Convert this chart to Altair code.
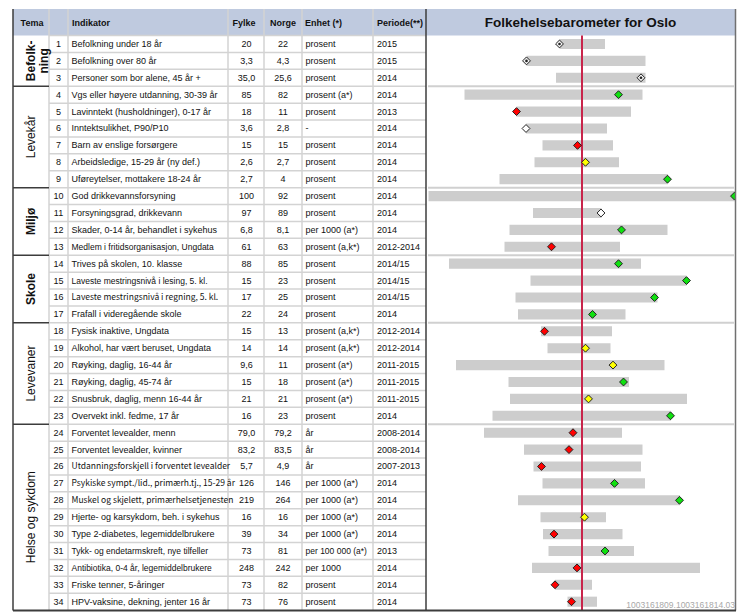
import altair as alt
import pandas as pd

FONT = "Liberation Sans"
NARROW = "Noto Sans CJK SC, Liberation Sans"

# ---------------- data ----------------
groups = ["Befolk-\nning", "Levekår", "Miljø", "Skole", "Levevaner", "Helse og sykdom"]
group_sizes = [3, 6, 4, 4, 6, 11]
group_bold = [True, False, True, True, False, False]

indikator = [
    "Befolkning under 18 år",
    "Befolkning over 80 år",
    "Personer som bor alene, 45 år +",
    "Vgs eller høyere utdanning, 30-39 år",
    "Lavinntekt (husholdninger), 0-17 år",
    "Inntektsulikhet, P90/P10",
    "Barn av enslige forsørgere",
    "Arbeidsledige, 15-29 år (ny def.)",
    "Uføreytelser, mottakere 18-24 år",
    "God drikkevannsforsyning",
    "Forsyningsgrad, drikkevann",
    "Skader, 0-14 år, behandlet i sykehus",
    "Medlem i fritidsorganisasjon, Ungdata",
    "Trives på skolen, 10. klasse",
    "Laveste mestringsnivå i lesing, 5. kl.",
    "Laveste mestringsnivå i regning, 5. kl.",
    "Frafall i videregående skole",
    "Fysisk inaktive, Ungdata",
    "Alkohol, har vært beruset, Ungdata",
    "Røyking, daglig, 16-44 år",
    "Røyking, daglig, 45-74 år",
    "Snusbruk, daglig, menn 16-44 år",
    "Overvekt inkl. fedme, 17 år",
    "Forventet levealder, menn",
    "Forventet levealder, kvinner",
    "Utdanningsforskjell i forventet levealder",
    "Psykiske sympt./lid., primærh.tj., 15-29 år",
    "Muskel og skjelett, primærhelsetjenesten",
    "Hjerte- og karsykdom, beh. i sykehus",
    "Type 2-diabetes, legemiddelbrukere",
    "Tykk- og endetarmskreft, nye tilfeller",
    "Antibiotika, 0-4 år, legemiddelbrukere",
    "Friske tenner, 5-åringer",
    "HPV-vaksine, dekning, jenter 16 år",
]
fylke = ["20", "3,3", "35,0", "85", "18", "3,6", "15", "2,6", "2,7", "100", "97", "6,8",
         "61", "88", "15", "17", "22", "15", "14", "9,6", "15", "21", "16", "79,0", "83,2",
         "5,7", "126", "219", "16", "39", "73", "248", "73", "73"]
norge = ["22", "4,3", "25,6", "82", "11", "2,8", "15", "2,7", "4", "92", "89", "8,1",
         "63", "85", "23", "25", "24", "13", "14", "11", "18", "21", "23", "79,2", "83,5",
         "4,9", "146", "264", "16", "34", "81", "242", "82", "76"]
enhet = ["prosent", "prosent", "prosent", "prosent (a*)", "prosent", "-", "prosent",
         "prosent", "prosent", "prosent", "prosent", "per 1000 (a*)", "prosent (a,k*)",
         "prosent", "prosent", "prosent", "prosent", "prosent (a,k*)", "prosent (a,k*)",
         "prosent (a*)", "prosent (a*)", "prosent (a*)", "prosent", "år", "år", "år",
         "per 1000 (a*)", "per 1000 (a*)", "per 1000 (a*)", "per 1000 (a*)",
         "per 100 000 (a*)", "per 1000", "prosent", "prosent"]
periode = ["2015", "2015", "2014", "2014", "2013", "2014", "2014", "2014", "2014", "2014",
           "2014", "2014", "2012-2014", "2014/15", "2014/15", "2014/15", "2014",
           "2012-2014", "2012-2014", "2011-2015", "2011-2015", "2011-2015", "2014",
           "2008-2014", "2008-2014", "2007-2013", "2014", "2014", "2014", "2014", "2013",
           "2014", "2014", "2014"]

# barometer, standardised scale where the national value (Norge) = 0
bar_lo = [-0.45, -1.11, -0.52, -2.35, -1.31, -1.12, -0.79, -0.95, -1.65, -3.07, -0.98,
          -1.45, -1.55, -2.66, -1.03, -1.33, -1.28, -0.82, -0.69, -2.52, -1.47, -1.44,
          -1.79, -1.96, -1.16, -0.97, -0.79, -1.28, -0.83, -0.78, -0.67, -1.00, -0.54,
          -0.29]
bar_hi = [0.46, 1.27, 1.27, 1.21, 0.98, 0.50, 0.62, 0.74, 1.72, 3.06, 0.39, 1.71, 0.76,
          1.18, 2.09, 1.51, 0.87, 0.60, 0.57, 1.65, 0.94, 2.10, 1.78, 0.80, 1.21, 1.18,
          1.26, 1.96, 0.48, 0.81, 1.04, 2.36, 0.20, 0.30]
fylke_pos = [-0.45, -1.11, 1.18, 0.73, -1.31, -1.12, -0.09, 0.07, 1.71, 3.05, 0.38,
             0.79, -0.61, 0.73, 2.09, 1.45, 0.21, -0.75, 0.07, 0.62, 0.83, 0.13, 1.77,
             -0.18, -0.26, -0.81, 0.65, 1.95, 0.05, -0.56, 0.46, -0.10, -0.54, -0.21]
status = ["grå", "grå", "grå", "grønn", "rød", "hvit", "rød", "gul", "grønn", "grønn",
          "hvit", "grønn", "rød", "grønn", "grønn", "grønn", "grønn", "rød", "gul", "gul",
          "grønn", "gul", "grønn", "rød", "rød", "rød", "grønn", "grønn", "gul", "rød",
          "grønn", "rød", "rød", "rød"]
status_domain = ["grå", "hvit", "grønn", "gul", "rød"]
status_colors = ["#f2f2f2", "#ffffff", "#10e010", "#ffff00", "#ff0000"]

title_text = "Folkehelsebarometer for Oslo"
header_center = ["Tema", "Fylke", "Norge"]
header_left = ["Indikator", "Enhet (*)", "Periode(**)"]
footer_text = "1003161809.1003161814.03"

# ---------------- tables ----------------
rows = list(range(1, len(indikator) + 1))
df = pd.DataFrame({
    "row": rows, "nr": [str(r) for r in rows], "indikator": indikator,
    "fylke": fylke, "norge": norge, "enhet": enhet, "periode": periode,
    "lo": bar_lo, "hi": bar_hi, "pos": fylke_pos, "status": status,
})

g_start, g_end, acc = [], [], 0
for s in group_sizes:
    g_start.append(acc + 1)
    acc += s
    g_end.append(acc)
gdf = pd.DataFrame({
    "label": groups, "mid": [(a + b) / 2 for a, b in zip(g_start, g_end)],
    "bold": group_bold,
})
group_bounds = pd.DataFrame({"b": [e + 0.5 for e in g_end[:-1]]})
row_bounds = pd.DataFrame({"b": [r + 0.5 for r in [0] + rows[:-1]]})

# layout (pixels)
LW, RW, H = 418, 310, 602
HDR = 26.5
BOTTOM = 601.5
col_lines = pd.DataFrame({"x": [41, 60, 220, 256, 294, 365]})
hdr_c = pd.DataFrame({"t": header_center, "x": [24, 236, 275]})
hdr_l = pd.DataFrame({"t": header_left, "x": [64, 297, 369]})

ys = alt.Scale(domain=[-1.07, 34.55], reverse=True, nice=False, zero=False)
xl = alt.Scale(domain=[0, LW], nice=False, zero=False)
xr = alt.Scale(domain=[-3.12, 3.08], nice=False, zero=False)

one = pd.DataFrame({"k": [0]})
BORDER = "#3c3c3c"
GRID = "#d3d3d3"
TXT = "#111111"

# ---------------- left: table ----------------
l_header = alt.Chart(one).mark_rect(color="#bfcadf").encode(
    x=alt.value(5), x2=alt.value(LW), y=alt.value(0), y2=alt.value(HDR))
l_rowlines = alt.Chart(row_bounds).mark_rule(color=GRID, strokeWidth=1.5).encode(
    y=alt.Y("b:Q", scale=ys, axis=None), x=alt.value(41), x2=alt.value(LW))
l_grouplines = alt.Chart(group_bounds).mark_rule(color=BORDER, strokeWidth=1.5).encode(
    y=alt.Y("b:Q", scale=ys, axis=None), x=alt.value(5), x2=alt.value(41))
l_collines = alt.Chart(col_lines).mark_rule(color=GRID, strokeWidth=1.5).encode(
    x=alt.X("x:Q", scale=xl, axis=None), y=alt.value(0), y2=alt.value(BOTTOM))
l_left = alt.Chart(one).mark_rule(color=BORDER, strokeWidth=1.5).encode(
    x=alt.value(5), y=alt.value(0), y2=alt.value(BOTTOM))
l_bottom = alt.Chart(one).mark_rule(color=BORDER, strokeWidth=2).encode(
    x=alt.value(5), x2=alt.value(LW), y=alt.value(BOTTOM))

hc = alt.Chart(hdr_c).mark_text(font=FONT, fontSize=9, fontWeight="bold", align="center",
                                baseline="middle", color=TXT).encode(
    x=alt.X("x:Q", scale=xl, axis=None), y=alt.value(HDR / 2 + 0.5), text="t:N")
hl = alt.Chart(hdr_l).mark_text(font=FONT, fontSize=9, fontWeight="bold", align="left",
                                baseline="middle", color=TXT).encode(
    x=alt.X("x:Q", scale=xl, axis=None), y=alt.value(HDR / 2 + 0.5), text="t:N")


def col_text(field, px, align, fit=None, filt=None, font=FONT, size=9):
    base = alt.Chart(df)
    if filt is not None:
        base = base.transform_filter(filt)
    enc = dict(x=alt.value(px), y=alt.Y("row:Q", scale=ys, axis=None), text=f"{field}:N")
    if fit is not None:
        # shrink somewhat long labels (8.5 or 9 px) so they stay inside their cell
        base = base.transform_calculate(
            fs=f"max(8.5, floor(2 * min(9, 9 * {fit} / (length(datum.{field}) * 4.3))) / 2)")
        enc["size"] = alt.Size("fs:Q", scale=None, legend=None)
    return base.mark_text(font=font, fontSize=size, align=align, baseline="middle",
                          color=TXT).encode(**enc)


t_nr = col_text("nr", 50.5, "center")
t_ind = col_text("indikator", 63.5, "left", fit=158,
                 filt="length(datum.indikator) <= 38")
# the longest labels use a narrower face so they stay inside the Indikator column
t_ind_long = col_text("indikator", 63.5, "left", filt="length(datum.indikator) > 38",
                      font=NARROW, size=8.5)
t_fy = col_text("fylke", 238.5, "center")
t_no = col_text("norge", 275, "center")
t_en = col_text("enhet", 297.5, "left", fit=62)
t_pe = col_text("periode", 369, "left")

g_bold = alt.Chart(gdf).transform_filter("datum.bold").mark_text(
    font=FONT, fontSize=12, fontWeight="bold", angle=270, align="center",
    baseline="middle", lineBreak="\n", lineHeight=13, color=TXT).encode(
    x=alt.value(23), y=alt.Y("mid:Q", scale=ys, axis=None), text="label:N")
g_norm = alt.Chart(gdf).transform_filter("!datum.bold").mark_text(
    font=FONT, fontSize=12, angle=270, align="center",
    baseline="middle", lineBreak="\n", lineHeight=13, color=TXT).encode(
    x=alt.value(23), y=alt.Y("mid:Q", scale=ys, axis=None), text="label:N")

left = alt.layer(
    l_header, l_rowlines, l_collines, l_grouplines, hc, hl,
    t_nr, t_ind, t_ind_long, t_fy, t_no, t_en, t_pe, g_bold, g_norm, l_left, l_bottom,
).properties(width=LW, height=H)

# ---------------- right: barometer ----------------
r_header = alt.Chart(one).mark_rect(color="#bfcadf").encode(
    x=alt.value(0), x2=alt.value(RW - 1), y=alt.value(0), y2=alt.value(HDR))
r_title = alt.Chart(pd.DataFrame({"t": [title_text]})).mark_text(
    font=FONT, fontSize=13.5, fontWeight="bold", align="center", baseline="middle",
    color=TXT).encode(x=alt.value((RW - 1) / 2), y=alt.value(HDR / 2 + 0.5), text="t:N")
r_glines = alt.Chart(group_bounds).mark_rule(color="#d0d0d0", strokeWidth=2).encode(
    y=alt.Y("b:Q", scale=ys, axis=None), x=alt.value(2), x2=alt.value(RW - 2))
r_bars = alt.Chart(df).transform_calculate(
    y0="datum.row - 0.3", y1="datum.row + 0.3").mark_rect(color="#cdcdcd").encode(
    x=alt.X("lo:Q", scale=xr, axis=None), x2="hi:Q",
    y=alt.Y("y0:Q", scale=ys, axis=None), y2="y1:Q")
r_ref = alt.Chart(pd.DataFrame({"ref": [0.0]})).mark_rule(
    color="#c8254b", strokeWidth=2).encode(
    x=alt.X("ref:Q", scale=xr, axis=None), y=alt.value(HDR), y2=alt.value(BOTTOM))
r_pts = alt.Chart(df).mark_point(shape="diamond", filled=True, size=62, stroke="#222222",
                                 strokeWidth=1, opacity=1, clip=True).encode(
    x=alt.X("pos:Q", scale=xr, axis=None), y=alt.Y("row:Q", scale=ys, axis=None),
    fill=alt.Fill("status:N", scale=alt.Scale(domain=status_domain, range=status_colors),
                  legend=None))
r_dots = alt.Chart(df).transform_filter("datum.status == 'grå'").mark_point(
    shape="circle", filled=True, size=7, color="#222222", opacity=1).encode(
    x=alt.X("pos:Q", scale=xr, axis=None), y=alt.Y("row:Q", scale=ys, axis=None))
r_left = alt.Chart(one).mark_rule(color=BORDER, strokeWidth=1.5).encode(
    x=alt.value(0), y=alt.value(0), y2=alt.value(BOTTOM))
r_right = alt.Chart(one).mark_rule(color="#707070", strokeWidth=1.5).encode(
    x=alt.value(RW - 0.5), y=alt.value(0), y2=alt.value(BOTTOM))
r_bottom = alt.Chart(one).mark_rule(color=BORDER, strokeWidth=2).encode(
    x=alt.value(0), x2=alt.value(RW), y=alt.value(BOTTOM))
r_footer = alt.Chart(pd.DataFrame({"t": [footer_text]})).mark_text(
    font=FONT, fontSize=8.5, align="right", baseline="bottom", color="#a8a8a8").encode(
    x=alt.value(RW - 1), y=alt.value(BOTTOM - 0.5), text="t:N")

right = alt.layer(
    r_header, r_title, r_glines, r_bars, r_ref, r_pts, r_dots,
    r_left, r_right, r_bottom, r_footer,
).properties(width=RW, height=H)

chart = alt.hconcat(left, right, spacing=0, bounds="flush").properties(
    padding=0).configure(font=FONT).configure_view(stroke=None)

chart.save("out.html", embed_options={"renderer": "svg", "actions": False})
